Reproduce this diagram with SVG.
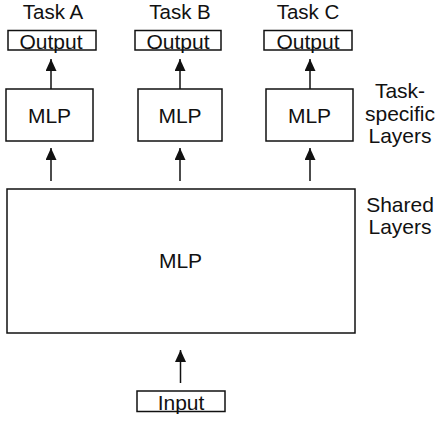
<svg xmlns="http://www.w3.org/2000/svg" width="436" height="421" viewBox="0 0 436 421">
<style>
  .box { fill: #fff; stroke: #111; stroke-width: 1.5; }
  .t { font-family: "Liberation Sans", Arial, sans-serif; font-size: 21px; fill: #111; text-anchor: middle; }
  .top { font-size: 20.5px; }
  .c { stroke: #111; stroke-width: 1.5; fill: none; marker-end: url(#ah); }
</style>
<defs>
  <marker id="ah" markerUnits="userSpaceOnUse" markerWidth="12" markerHeight="14" refX="12" refY="5.5" orient="auto">
    <path d="M0,0 L12,5.5 L0,11 Z" fill="#111"/>
  </marker>
</defs>
<rect width="436" height="421" fill="#fff"/>
<g id="connectors">
  <line class="c" x1="51" y1="89" x2="51" y2="59"/>
  <line class="c" x1="180" y1="89" x2="180" y2="59"/>
  <line class="c" x1="310" y1="89" x2="310" y2="59"/>
  <line class="c" x1="51" y1="181" x2="51" y2="148"/>
  <line class="c" x1="180" y1="181" x2="180" y2="148"/>
  <line class="c" x1="310" y1="181" x2="310" y2="148"/>
  <line class="c" x1="180.5" y1="383" x2="180.5" y2="350"/>
</g>
<g id="labelTaskA"><text class="t top" x="53" y="19">Task A</text></g>
<g id="labelTaskB"><text class="t top" x="180" y="19">Task B</text></g>
<g id="labelTaskC"><text class="t top" x="308" y="19">Task C</text></g>
<g id="outputA"><rect class="box" x="8" y="30.5" width="88" height="19.5"/><text class="t" x="51" y="48.5">Output</text></g>
<g id="outputB"><rect class="box" x="135" y="30.5" width="86" height="19.5"/><text class="t" x="178" y="48.5">Output</text></g>
<g id="outputC"><rect class="box" x="264" y="30.5" width="88" height="19.5"/><text class="t" x="308" y="48.5">Output</text></g>
<g id="mlpA"><rect class="box" x="6" y="89" width="87" height="52"/><text class="t" x="49.5" y="122.5">MLP</text></g>
<g id="mlpB"><rect class="box" x="138" y="89" width="84" height="52"/><text class="t" x="180" y="122.5">MLP</text></g>
<g id="mlpC"><rect class="box" x="266" y="89" width="87" height="52"/><text class="t" x="309.5" y="122.5">MLP</text></g>
<g id="sharedMLP"><rect class="box" x="7" y="189" width="348" height="144"/><text class="t" x="180.5" y="268">MLP</text></g>
<g id="input"><rect class="box" x="137" y="391" width="88" height="20.5"/><text class="t" x="181" y="409.5">Input</text></g>
<g id="labelTaskSpecific">
  <text class="t" x="400" y="98">Task-</text>
  <text class="t" x="400" y="120.5">specific</text>
  <text class="t" x="400" y="143">Layers</text>
</g>
<g id="labelShared">
  <text class="t" x="400" y="212">Shared</text>
  <text class="t" x="400" y="234">Layers</text>
</g>
</svg>
